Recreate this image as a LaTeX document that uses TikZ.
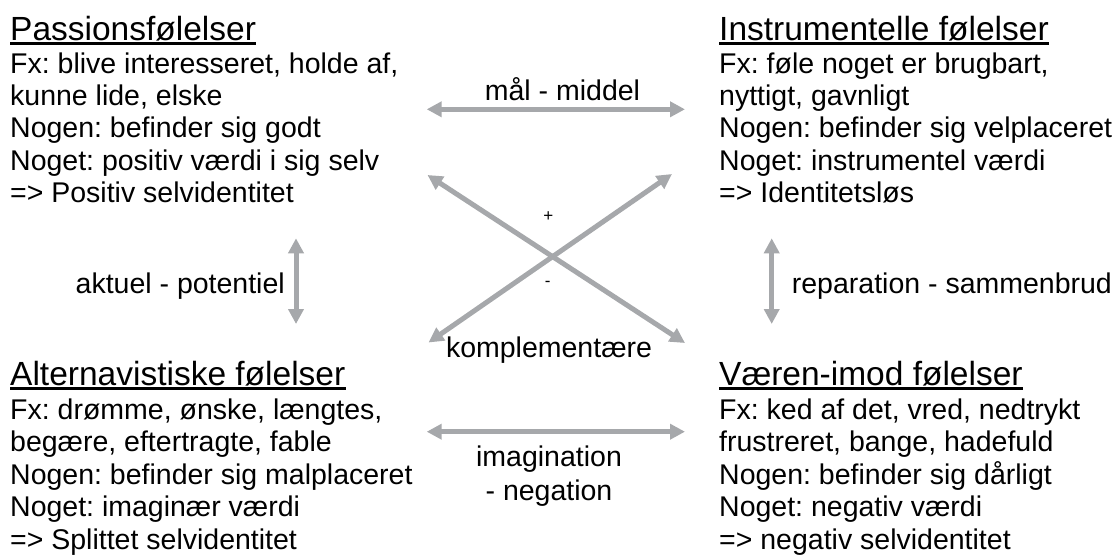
\documentclass[tikz,border=0pt]{standalone}
\usepackage{fontspec}
\setmainfont{Liberation Sans}
\usetikzlibrary{arrows.meta}
\definecolor{arrowgray}{RGB}{166,168,171}
\frenchspacing
\tikzset{
  headtitle/.style={inner sep=0pt, anchor=base west, font=\fontsize{33.5pt}{40pt}\selectfont},
  bodytext/.style={inner sep=0pt, anchor=base west, font=\fontsize{28.5pt}{32.4pt}\selectfont},
  lbl/.style={inner sep=0pt, font=\fontsize{28.5pt}{33.3pt}\selectfont},
  smalllbl/.style={inner sep=0pt, anchor=base, font=\fontsize{17pt}{20pt}\selectfont},
  uline/.style={line width=2.4pt},
  garrow/.style={draw=arrowgray, line width=5pt,
    {Triangle[length=15pt,width=15pt]}-{Triangle[length=15pt,width=15pt]}}
}
\begin{document}
\begin{tikzpicture}[x=1pt,y=-1pt]
\useasboundingbox (0,0) rectangle (1118,557);

% top-left block
\node[headtitle] (tlt) at (10,40) {Passionsfølelser};
\node[bodytext] (tlb) at (10,73) {\parbox[t]{420pt}{\raggedright\frenchspacing
Fx: blive interesseret, holde af,\\
kunne lide, elske\\
Nogen: befinder sig godt\\
Noget: positiv værdi i sig selv\\
=> Positiv selvidentitet}};

% top-right block
\node[headtitle] (trt) at (719,40) {Instrumentelle følelser};
\node[bodytext] (trb) at (719,73) {\parbox[t]{420pt}{\raggedright\frenchspacing
Fx: føle noget er brugbart,\\
nyttigt, gavnligt\\
Nogen: befinder sig velplaceret\\
Noget: instrumentel værdi\\
=> Identitetsløs}};

% bottom-left block
\node[headtitle] (blt) at (10,385) {Alternavistiske følelser};
\node[bodytext] (blb) at (10,419.5) {\parbox[t]{420pt}{\raggedright\frenchspacing
Fx: drømme, ønske, længtes,\\
begære, eftertragte, fable\\
Nogen: befinder sig malplaceret\\
Noget: imaginær værdi\\
=> Splittet selvidentitet}};

% bottom-right block
\node[headtitle] (brt) at (719,385) {Væren-imod følelser};
\node[bodytext] (brb) at (719,419.5) {\parbox[t]{420pt}{\raggedright\frenchspacing
Fx: ked af det, vred, nedtrykt\\
frustreret, bange, hadefuld\\
Nogen: befinder sig dårligt\\
Noget: negativ værdi\\
=> negativ selvidentitet}};

% underlines
\foreach \t in {tlt,trt,blt,brt}{
  \draw[uline] ([yshift=-3.6pt]\t.base west) -- ([yshift=-3.6pt]\t.base east);
}

% arrow end points
\coordinate (mmL) at (426.7,109.3);
\coordinate (mmR) at (685,109.3);
\coordinate (inL) at (426.7,431.7);
\coordinate (inR) at (685,431.7);
\coordinate (apT) at (296,238.3);
\coordinate (apB) at (296,324);
\coordinate (rsT) at (771.7,238.3);
\coordinate (rsB) at (771.7,324);
\coordinate (xUL) at (427.5,175);
\coordinate (xLR) at (685,343);
\coordinate (xLL) at (428.5,342.5);
\coordinate (xUR) at (672,174);

\draw[garrow] (mmL) -- (mmR);
\draw[garrow] (inL) -- (inR);
\draw[garrow] (apT) -- (apB);
\draw[garrow] (rsT) -- (rsB);
\draw[garrow] (xUL) -- (xLR);
\draw[garrow] (xLL) -- (xUR);

% labels
\node[lbl, anchor=base] (mm) at (562.5,100.7) {mål - middel};
\node[lbl, anchor=base] (kp) at (549,357) {komplementære};
\node[lbl, anchor=base] (img) at (549,466.7) {\parbox[t]{220pt}{\centering imagination\\- negation}};
\node[lbl, anchor=base east] (ap) at (285,293.3) {aktuel - potentiel};
\node[lbl, anchor=base west] (rs) at (791.7,293.3) {reparation - sammenbrud};
\node[smalllbl] (plus) at (548.3,221.5) {+};
\node[smalllbl] (minus) at (547.7,286.5) {-};
\end{tikzpicture}
\end{document}
